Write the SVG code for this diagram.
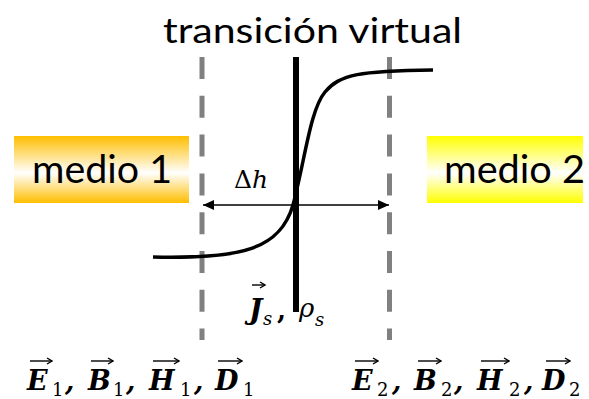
<svg xmlns="http://www.w3.org/2000/svg" width="589" height="399" viewBox="0 0 589 399">
  <defs>
    <linearGradient id="gOrange" x1="0" y1="0" x2="0" y2="1">
      <stop offset="0" stop-color="#FFBE00"/>
      <stop offset="0.55" stop-color="#FFFFFF"/>
      <stop offset="1" stop-color="#FFBE00"/>
    </linearGradient>
    <linearGradient id="gYellow" x1="0" y1="0" x2="0" y2="1">
      <stop offset="0" stop-color="#FFFF00"/>
      <stop offset="0.55" stop-color="#FFFFFF"/>
      <stop offset="1" stop-color="#FFFF00"/>
    </linearGradient>
    <marker id="ah" markerWidth="11" markerHeight="10" refX="11" refY="5" orient="auto-start-reverse" markerUnits="userSpaceOnUse">
      <path d="M0,0 L11,5 L0,10 Z" fill="#000"/>
    </marker>
    <marker id="vh" markerWidth="8" markerHeight="8" refX="7" refY="4" orient="auto" markerUnits="userSpaceOnUse">
      <path d="M2,1 L7,4 L2,7" fill="none" stroke="#000" stroke-width="1.4"/>
    </marker>
  </defs>
  <style>
    .sans { font-family: Lato, "Liberation Sans", Arial, sans-serif; fill: #000; }
    .math { font-family: "DejaVu Serif", "Liberation Serif", serif; fill: #000; }
    .bv { font-weight: bold; font-style: italic; font-size: 27px; }
    .sub { font-size: 18px; }
    .dash { stroke: #808080; stroke-width: 5; stroke-dasharray: 22 16.8; fill: none; }
    .vec { stroke: #000; stroke-width: 1.4; fill: none; marker-end: url(#vh); }
  </style>
  <rect width="589" height="399" fill="#fff"/>

  <g id="title">
    <text class="sans" x="163" y="43" font-size="35" textLength="299" lengthAdjust="spacingAndGlyphs">transición virtual</text>
  </g>

  <g id="medio1">
    <rect x="14" y="136" width="175" height="67" fill="url(#gOrange)"/>
    <text class="sans" x="32" y="183" font-size="39" textLength="140" lengthAdjust="spacingAndGlyphs">medio 1</text>
  </g>

  <g id="medio2">
    <rect x="427" y="136" width="156" height="67" fill="url(#gYellow)"/>
    <text class="sans" x="444" y="183" font-size="39" textLength="141" lengthAdjust="spacingAndGlyphs">medio 2</text>
  </g>

  <g id="boundaries">
    <line class="dash" x1="202" y1="57" x2="202" y2="340"/>
    <line class="dash" x1="389.5" y1="57" x2="389.5" y2="340"/>
  </g>

  <g id="interface">
    <line x1="296" y1="57" x2="296" y2="312" stroke="#000" stroke-width="6"/>
    <text class="math" x="249" y="319" font-size="28" font-weight="bold" font-style="italic">J</text>
    <path class="vec" d="M252,285 H265"/>
    <text class="math" x="263" y="325" font-size="18" font-style="italic">s</text>
    <text class="math" x="277" y="319" font-size="26" font-weight="bold">,</text>
    <text class="math" x="299" y="317" font-size="26" font-style="italic">ρ</text>
    <text class="math" x="315" y="326" font-size="18" font-style="italic">s</text>
  </g>

  <g id="profile">
    <path d="M153,257 C240,259 280,250 293,205 C305,160 310,110 325,92 C340,74 360,71 433,70" fill="none" stroke="#000" stroke-width="3.5"/>
  </g>

  <g id="connectors">
    <line x1="203" y1="205" x2="389" y2="205" stroke="#000" stroke-width="1.6" marker-start="url(#ah)" marker-end="url(#ah)"/>
    <text class="math" x="234" y="188" font-size="25">Δ<tspan font-style="italic">h</tspan></text>
  </g>

  <g id="fields1">
    <text class="math bv" x="27" y="390">E</text>
    <text class="math sub" x="52" y="396">1</text>
    <text class="math bv" x="65" y="390">,</text>
    <text class="math bv" x="88" y="390">B</text>
    <text class="math sub" x="113" y="396">1</text>
    <text class="math bv" x="126" y="390">,</text>
    <text class="math bv" x="149" y="390">H</text>
    <text class="math sub" x="180" y="396">1</text>
    <text class="math bv" x="194" y="390">,</text>
    <text class="math bv" x="215" y="390">D</text>
    <text class="math sub" x="243" y="396">1</text>
    <path class="vec" d="M30,361 H52"/>
    <path class="vec" d="M91,361 H113"/>
    <path class="vec" d="M153,361 H179"/>
    <path class="vec" d="M218,361 H242"/>
  </g>

  <g id="fields2">
    <text class="math bv" x="352" y="390">E</text>
    <text class="math sub" x="377" y="396">2</text>
    <text class="math bv" x="392" y="390">,</text>
    <text class="math bv" x="414" y="390">B</text>
    <text class="math sub" x="441" y="396">2</text>
    <text class="math bv" x="454" y="390">,</text>
    <text class="math bv" x="477" y="390">H</text>
    <text class="math sub" x="509" y="396">2</text>
    <text class="math bv" x="524" y="390">,</text>
    <text class="math bv" x="542" y="390">D</text>
    <text class="math sub" x="569" y="396">2</text>
    <path class="vec" d="M355,361 H378"/>
    <path class="vec" d="M418,361 H441"/>
    <path class="vec" d="M481,361 H509"/>
    <path class="vec" d="M546,361 H570"/>
  </g>
</svg>
